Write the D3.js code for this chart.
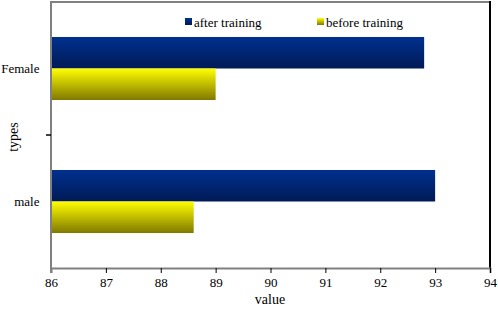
<!DOCTYPE html>
<html>
<head>
<meta charset="utf-8">
<script src="https://cdn.jsdelivr.net/npm/d3@7"></script>
<style>
  body { margin: 0; background: #fff; }
  svg { display: block; }
  svg text { font-family: "Liberation Serif", "Times New Roman", serif; fill: #000; }
</style>
</head>
<body>
<svg id="chart" width="498" height="311"></svg>
<script>
// ─── Data ────────────────────────────────────────────────────────────────────
const categories   = ['Female', 'male'];
const seriesNames  = ['after training', 'before training'];
const afterValues  = [92.8, 93.0];
const beforeValues = [89.0, 88.6];
const xTicks       = [86, 87, 88, 89, 90, 91, 92, 93, 94];

// ─── Layout ──────────────────────────────────────────────────────────────────
const SERIF = '"Liberation Serif", "Times New Roman", serif';
const svg = d3.select('#chart');
const L = 51, R = 490, T = 2, B = 268;

const x = d3.scaleLinear().domain([86, 94]).range([L, R]);
const y = d3.scaleBand().domain(categories).range([T, B])
  .paddingInner(0.526).paddingOuter(0.263);
const ySub = d3.scaleBand().domain(seriesNames).range([0, y.bandwidth()]);

const defs = svg.append('defs');
function grad(id, top, bottom) {
  const g = defs.append('linearGradient').attr('id', id)
    .attr('x1', 0).attr('y1', 0).attr('x2', 0).attr('y2', 1);
  g.append('stop').attr('offset', '0%').attr('stop-color', top);
  g.append('stop').attr('offset', '100%').attr('stop-color', bottom);
}
grad('gAfter', '#00308f', '#001a55');
grad('gBefore', '#ffff00', '#807800');
const fills = { 'after training': 'url(#gAfter)', 'before training': 'url(#gBefore)' };

// ─── Bars ────────────────────────────────────────────────────────────────────
const rows = categories.map((c, i) => ({
  cat: c,
  vals: [
    { name: seriesNames[0], value: afterValues[i] },
    { name: seriesNames[1], value: beforeValues[i] },
  ],
}));

svg.append('g').selectAll('g')
  .data(rows)
  .join('g')
  .attr('transform', d => `translate(0,${y(d.cat)})`)
  .selectAll('rect')
  .data(d => d.vals)
  .join('rect')
  .attr('x', x(86))
  .attr('y', d => ySub(d.name))
  .attr('width', d => x(d.value) - x(86))
  .attr('height', ySub.bandwidth())
  .attr('fill', d => fills[d.name]);

// ─── Frame ───────────────────────────────────────────────────────────────────
svg.append('line').attr('x1', L).attr('x2', R).attr('y1', T).attr('y2', T)
  .attr('stroke', '#808080').attr('stroke-width', 2);
svg.append('line').attr('x1', R).attr('x2', R).attr('y1', T - 1).attr('y2', B)
  .attr('stroke', '#000').attr('stroke-width', 2);

// ─── X axis ──────────────────────────────────────────────────────────────────
const gx = svg.append('g').attr('transform', `translate(0,${B})`)
  .call(d3.axisBottom(x).tickValues(xTicks).tickSize(5).tickPadding(5).tickFormat(d3.format('d')));
gx.attr('font-family', SERIF).attr('font-size', 13);
gx.select('.domain').attr('stroke', '#808080').attr('stroke-width', 2);
gx.selectAll('line').attr('stroke', '#000');
gx.selectAll('text').attr('fill', '#000');

// ─── Y axis ──────────────────────────────────────────────────────────────────
svg.append('line').attr('x1', L).attr('x2', L).attr('y1', T - 1).attr('y2', B + 5)
  .attr('stroke', '#808080').attr('stroke-width', 2);
const midY = (y('Female') + y.bandwidth() + y('male')) / 2;
svg.append('line').attr('x1', L - 5).attr('x2', L).attr('y1', midY).attr('y2', midY)
  .attr('stroke', '#000').attr('stroke-width', 1.5);

svg.append('g').selectAll('text')
  .data(categories)
  .join('text')
  .attr('x', 39.5)
  .attr('y', d => y(d) + y.bandwidth() / 2)
  .attr('dy', '0.35em')
  .attr('text-anchor', 'end')
  .style('font-size', '13px')
  .text(d => d);

// ─── Axis titles ─────────────────────────────────────────────────────────────
svg.append('text')
  .attr('transform', `translate(18,${137}) rotate(-90)`)
  .attr('text-anchor', 'middle')
  .style('font-size', '14px')
  .text('types');
svg.append('text')
  .attr('x', 270).attr('y', 304)
  .attr('text-anchor', 'middle')
  .style('font-size', '14px')
  .text('value');

// ─── Legend ──────────────────────────────────────────────────────────────────
const legendX = [185, 317];
const lg = svg.append('g').selectAll('g')
  .data(seriesNames)
  .join('g')
  .attr('transform', (d, i) => `translate(${legendX[i]},22)`);
lg.append('rect').attr('x', 0).attr('y', -4).attr('width', 7).attr('height', 7)
  .attr('fill', d => fills[d]);
lg.append('text').attr('x', 9).attr('y', 0).attr('dy', '0.35em')
  .style('font-size', '13px')
  .text(d => d);
</script>
</body>
</html>
